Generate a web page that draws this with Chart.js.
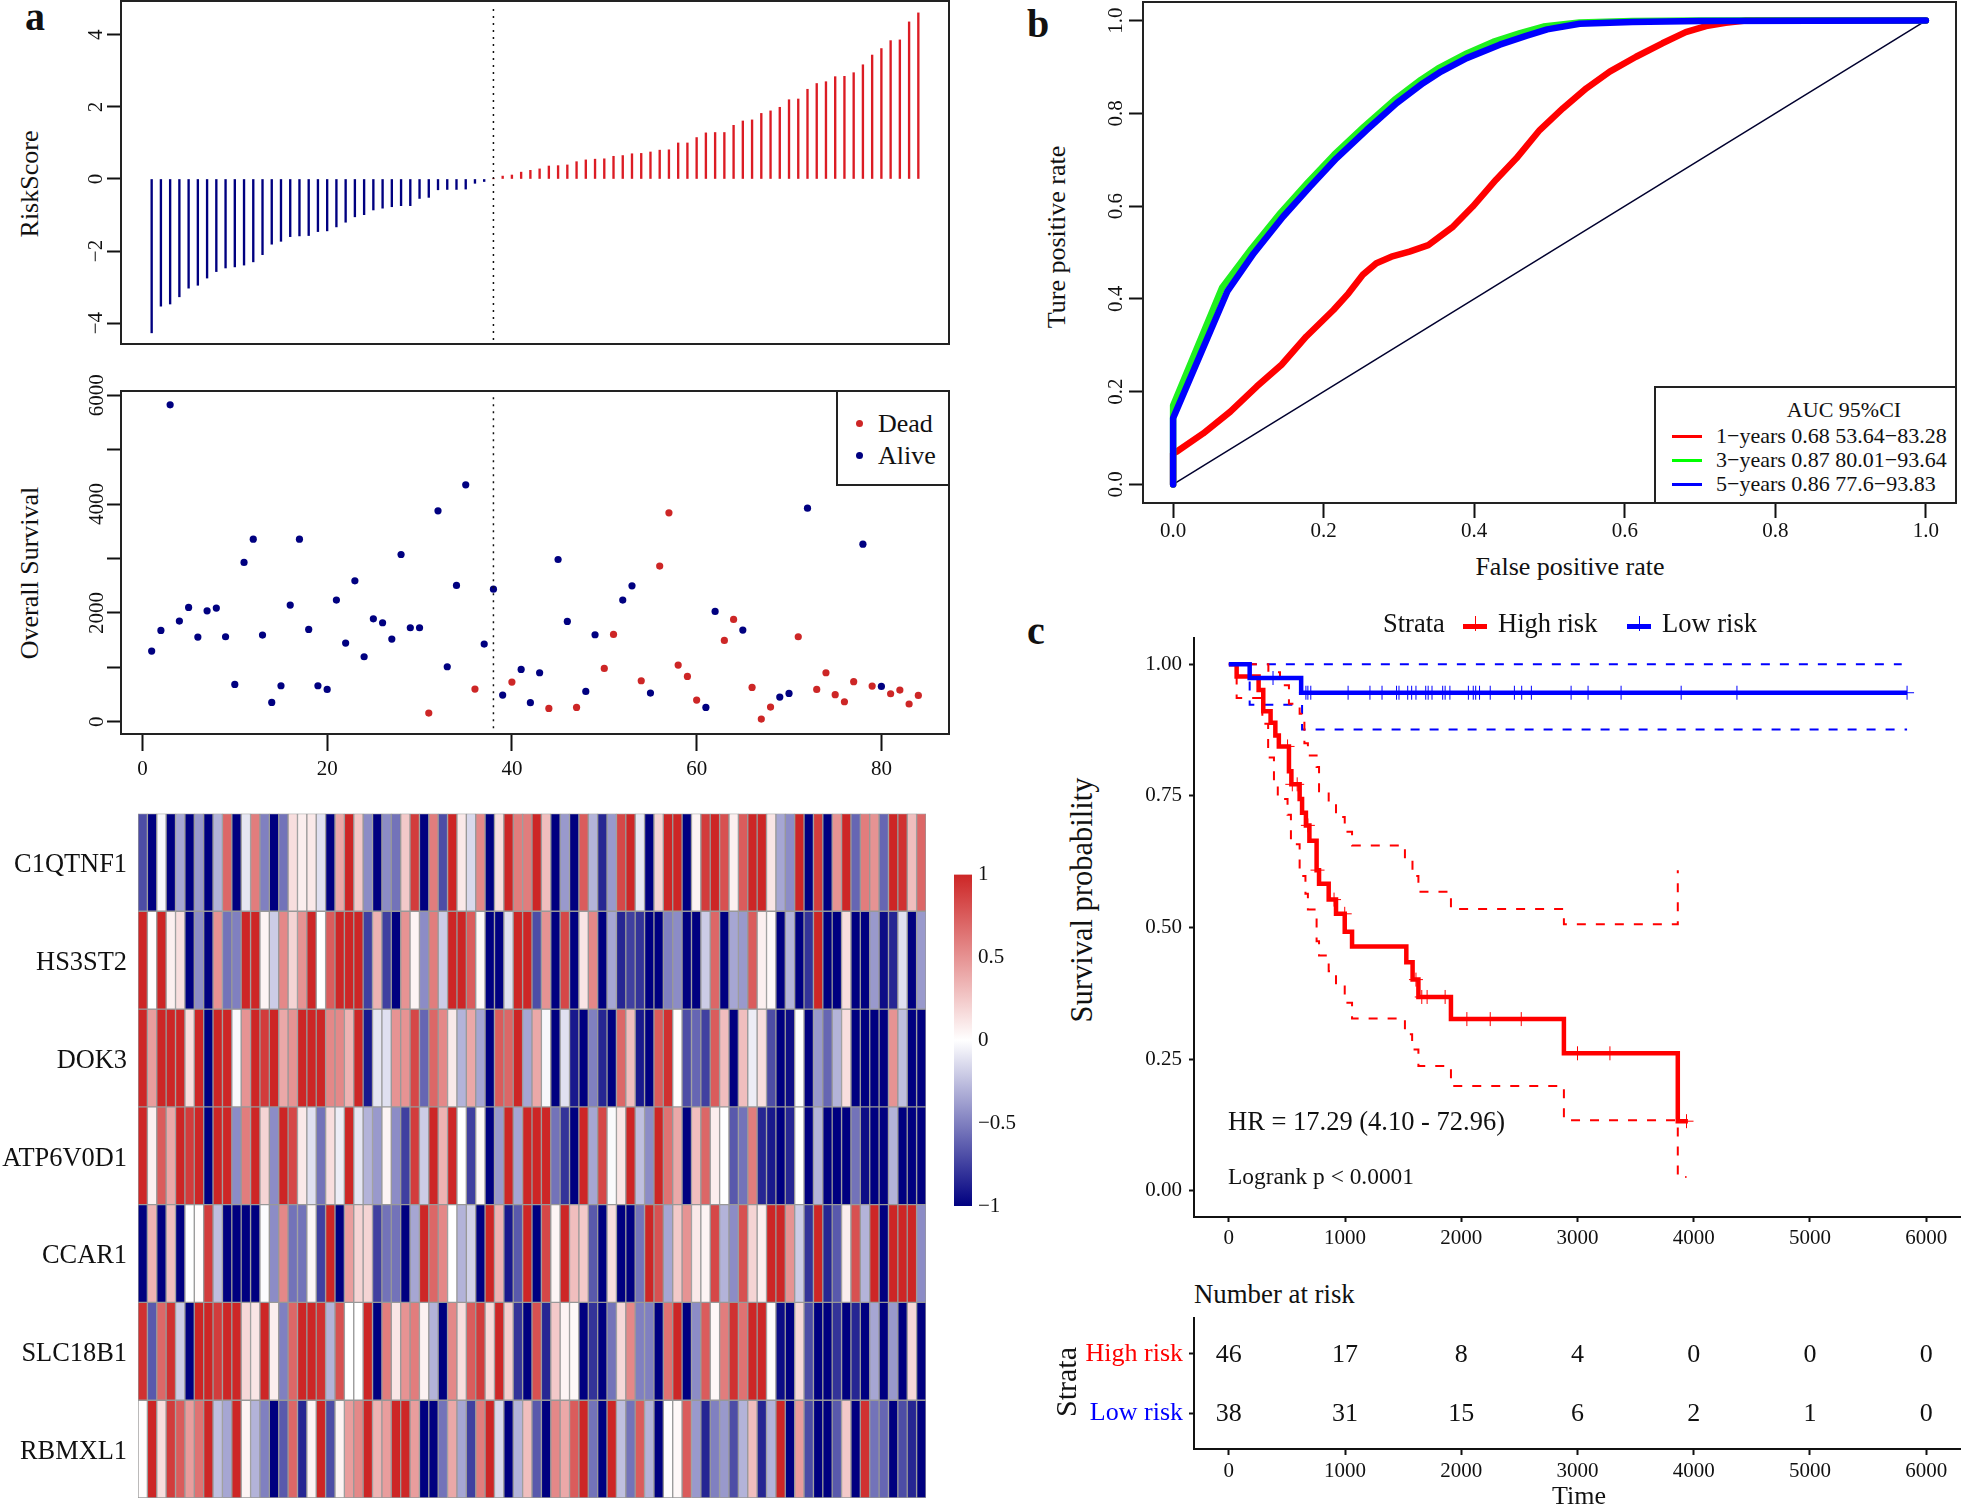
<!DOCTYPE html>
<html>
<head>
<meta charset="utf-8">
<title>Risk score panels</title>
<script src="https://cdn.jsdelivr.net/npm/chart.js@4"></script>
<style>
  html, body { margin: 0; padding: 0; background: #fff; }
  #page { position: relative; width: 1961px; height: 1505px; overflow: hidden; font-family: "Liberation Serif", serif; color: #111; }
  #page canvas { position: absolute; }
  .txt { position: absolute; white-space: pre; line-height: 1; }
  .box { position: absolute; border: 2px solid #222; background: #fff; box-sizing: border-box; }
  .swatch { position: absolute; }
</style>
</head>
<body>
<div id="page"></div>
<script>
// panel a, top: risk score per patient
const riskScore = [-4.27, -3.53, -3.47, -3.27, -3.03, -2.95, -2.75, -2.57, -2.47, -2.44, -2.39, -2.30, -2.10, -1.81,
  -1.73, -1.60, -1.58, -1.57, -1.46, -1.44, -1.33, -1.20, -1.05, -0.99, -0.86, -0.81, -0.77, -0.74, -0.74, -0.54,
  -0.51, -0.30, -0.29, -0.29, -0.28, -0.12, -0.07, 0.005, 0.08, 0.11, 0.19, 0.24, 0.28, 0.36, 0.37, 0.39, 0.48, 0.53,
  0.55, 0.56, 0.63, 0.65, 0.70, 0.71, 0.75, 0.80, 0.81, 1.00, 1.00, 1.15, 1.28, 1.29, 1.29, 1.49, 1.61, 1.64, 1.82,
  1.89, 1.99, 2.20, 2.22, 2.49, 2.65, 2.70, 2.84, 2.85, 2.95, 3.17, 3.44, 3.62, 3.84, 3.86, 4.36, 4.61];
const riskTicks = [-4, -2, 0, 2, 4];
const cutoff = 38;

// panel a, middle: survival time and status (1 = dead)
const survivalDays = [1298, 1678, 5824, 1849, 2100, 1555, 2039, 2088, 1562, 686, 2927, 3356, 1592, 355, 661, 2143,
  3356, 1696, 661, 594, 2235, 1445, 2590, 1194, 1892, 1819, 1519, 3074, 1727, 1727, 159, 3876, 1010, 2505, 4354, 600,
  1427, 2437, 490, 729, 961, 349, 900, 245, 2982, 1843, 263, 557, 1598, 980, 1604, 2235, 2498, 753, 527, 2860, 3840,
  1041, 833, 398, 263, 2027, 1494, 1880, 1684, 631, 49, 269, 453, 520, 1562, 3925, 594, 900, 496, 367, 735, 3264, 655,
  649, 514, 582, 325, 484];
const deadStatus = [0,0,0,0,0,0,0,0,0,0,0,0,0,0,0,0,0,0,0,0,0,0,0,0,0,0,0,0,0,0,1,0,0,0,0,1,0,0,0,1,0,0,0,1,0,0,1,0,0,1,
  1,0,0,1,0,1,1,1,1,1,0,0,1,1,0,1,1,1,0,0,1,0,1,1,1,1,1,0,1,0,1,1,1,1];
const survivalTicks = [0, 1000, 2000, 3000, 4000, 5000, 6000];
const survivalLabels = [0, 2000, 4000, 6000];
const patientTicks = [0, 20, 40, 60, 80];

// panel a, bottom: scaled expression
const geneNames = ['C1QTNF1', 'HS3ST2', 'DOK3', 'ATP6V0D1', 'CCAR1', 'SLC18B1', 'RBMXL1'];
const c1qtnf1 = [-0.7,-1,-0.03,-1,-0.35,-1,-0.4,-1,-0.3,0.7,-1,-0.1,0.6,-0.5,-1,-0.55,0.15,0.08,0.1,-0.12,-1,0.4,1,0.25,
  -0.45,-1,-0.45,-0.55,0.25,0.9,-1,0.6,-0.7,1,0.1,-0.15,0.55,-1,0.15,1,0.6,0.6,1,0.3,-1,-0.4,-1,0.75,-0.3,-0.85,-0.4,
  0.85,1,-0.1,-1,0.2,1,1,-1,0.05,0.9,1,0.8,0.07,0.75,1,1,0.12,-0.35,-0.45,1,-1,0.9,-1,0.5,1,-0.6,0.6,0.5,-0.6,1,0.95,0.3,0.7];
const hs3st2 = [1,0,1,0.07,0.15,-1,-0.45,-1,0.5,-0.55,-0.5,1,1,0.05,-0.2,0.55,0.2,0.5,1,0,0.75,1,1,1,-0.75,0.35,-0.75,-1,
  0.5,0.05,-0.45,0.6,-0.2,1,1,0.75,0.03,-1,-1,-0.12,1,1,-0.7,0.5,-1,0.85,-1,0.12,0.55,-1,-0.35,-0.85,-0.75,-0.8,-1,-1,
  -0.5,-0.45,-1,-1,-0.2,0.7,-1,-0.35,-0.4,0.75,0.07,0.03,-1,-0.3,-1,-0.8,1,-1,-1,0.15,-1,-1,-0.4,-0.95,-0.85,-0.12,-1,-0.4];
const dok3 = [1,0.45,1,1,1,0.15,1,-1,1,1,-0.02,0.5,1,0.9,1,0.4,0.5,1,1,1,0.55,0.55,0.35,1,-0.9,-0.1,-0.12,0.5,0.5,0.85,-0.6,
  0.7,0.55,0.1,-0.3,0.4,-0.35,-1,0.75,0.7,1,-0.35,0.4,-0.03,-1,-0.12,-0.9,-1,-0.5,-0.85,-1,0.7,0.3,-0.9,-1,0.75,0.95,0,
  -0.7,-0.6,-0.75,0.75,0.3,-1,0.3,-0.07,0.15,-0.7,-1,-0.95,-0.01,-1,-0.4,-0.6,-0.3,0.15,-1,-1,-1,-1,0.5,-0.25,-1,-1];
const atp6v0d1 = [1,0.07,0.75,0.4,1,0.9,1,-1,1,1,-0.45,0.6,1,0.2,-0.45,1,0.85,0.1,-0.12,-0.55,0.15,-0.07,1,-0.1,-0.3,-0.4,
  0.05,-0.45,-0.75,0.9,-0.2,1,0.35,1,0,-0.75,0.03,-1,-0.4,1,-0.35,1,1,1,-0.55,-0.8,-1,1,-0.35,0.85,-0.02,0.12,1,-0.25,
  -0.45,1,0.65,0.4,-1,0.3,0.7,0.08,0,-0.65,-0.55,0.6,-0.85,-0.9,-1,-0.85,0,-1,-0.3,-1,-1,-1,-0.55,-0.95,-1,-1,-0.3,-1,-1,-1];
const ccar1 = [-1,0.35,-1,0.3,-1,0,0.01,0.9,-0.25,-1,-1,-1,-1,-0.01,-0.45,0.55,-0.55,-0.55,0.04,-0.75,1,-1,0.45,0.2,0.2,
  -0.75,-0.55,-0.55,-1,-0.35,1,0.7,0.55,0,-0.3,-0.18,-1,1,0.35,-0.9,-0.65,1,-1,0.85,0.05,1,0.3,0.25,-0.65,-1,0.15,-1,-1,
  -0.55,1,0.8,-0.35,0.25,0.5,0.1,0.05,0.85,-0.3,-0.45,0.8,0.2,0.07,1,1,0.5,-0.2,-0.8,1,-0.85,-0.65,0.08,0.8,-0.3,1,-1,1,1,1,-0.45];
const slc18b1 = [0.95,-0.65,0.7,0.95,-0.2,-1,1,1,0.9,1,1,0.18,0.12,1,0.08,-0.5,0.7,1,1,0.95,-0.3,0.8,0,0,1,-1,0.6,0.12,0.5,
  0.6,0.06,-0.3,-1,0.55,0.15,0.75,0.9,0.17,1,0.22,-0.8,-1,0.8,-0.85,0.25,0.05,0.03,-1,-0.8,-1,-0.55,0.18,0.55,-0.5,-0.5,-1,
  0.65,1,-1,-0.45,0.75,0.03,0.6,0.95,0.65,1,1,0.02,-0.95,-1,0.18,-0.7,-1,-1,-0.8,-1,-0.85,-1,-0.35,-1,-0.4,-1,0.18,-1];
const rbmxl1 = [0.01,1,0.15,0.9,0.75,0.45,0.65,1,-0.25,-0.35,1,0.05,-0.3,-0.5,-1,-0.65,0.7,-0.85,0.05,1,-0.7,0.05,0.45,0.55,
  1,0.35,0.45,1,1,0.45,-1,-1,-0.55,0.4,-0.35,-0.75,0.6,1,-0.15,-1,-0.3,0.3,-0.65,-1,0.55,0.4,0.75,1,-0.55,-1,1,-0.25,-0.55,
  0.75,-0.3,-1,0.01,0.03,0.75,-0.4,-0.85,-0.5,-0.4,-0.7,-0.3,0.3,-0.85,-0.3,1,-1,0.45,-0.7,-1,-1,-0.65,0.25,-1,0.95,-0.55,-0.6,-1,-0.7,-0.85,-1];
const colourTicks = [-1, -0.5, 0, 0.5, 1];

// panel b: ROC curves
const fpr1y = [0, 0, 0.005, 0.04, 0.076, 0.111, 0.144, 0.177, 0.213, 0.233, 0.252, 0.27, 0.29, 0.314, 0.339, 0.372, 0.398, 0.429, 0.456, 0.487, 0.518, 0.549, 0.58, 0.615, 0.65, 0.681, 0.708, 0.734, 0.761, 1];
const tpr1y = [0, 0.067, 0.071, 0.11, 0.157, 0.211, 0.258, 0.319, 0.376, 0.412, 0.452, 0.477, 0.491, 0.502, 0.516, 0.556, 0.599, 0.657, 0.703, 0.764, 0.811, 0.854, 0.89, 0.922, 0.951, 0.975, 0.988, 0.995, 1, 1];
const fpr3y = [0, 0, 0.065, 0.104, 0.143, 0.179, 0.214, 0.254, 0.294, 0.329, 0.352, 0.39, 0.425, 0.461, 0.492, 0.54, 0.61, 0.7, 1];
const tpr3y = [0, 0.17, 0.424, 0.508, 0.586, 0.651, 0.711, 0.772, 0.829, 0.872, 0.897, 0.929, 0.954, 0.973, 0.987, 0.996, 0.999, 1, 1];
const fpr5y = [0, 0, 0.072, 0.107, 0.146, 0.182, 0.217, 0.257, 0.297, 0.332, 0.356, 0.39, 0.434, 0.469, 0.497, 0.54, 0.61, 0.7, 1];
const tpr5y = [0, 0.143, 0.416, 0.498, 0.577, 0.642, 0.703, 0.764, 0.822, 0.865, 0.89, 0.919, 0.948, 0.967, 0.981, 0.993, 0.997, 0.999, 1];
const rateTicks = [0, 0.2, 0.4, 0.6, 0.8, 1];

// panel c: Kaplan-Meier curves, value is the level reached at that time
const highTime = [0, 67, 256, 296, 359, 400, 430, 517, 538, 609, 630, 663, 693, 755, 776, 859, 922, 997, 1060, 1527, 1581, 1631, 1911, 2883, 3863, 3950];
const highSurv = [1, 0.977, 0.951, 0.911, 0.889, 0.865, 0.844, 0.797, 0.772, 0.744, 0.718, 0.694, 0.665, 0.609, 0.583, 0.553, 0.526, 0.492, 0.464, 0.434, 0.401, 0.368, 0.326, 0.261, 0.132, 0.132];
const highUpperTime = [0, 340, 440, 517, 609, 650, 680, 755, 776, 859, 922, 997, 1060, 1515, 1580, 1631, 1911, 2883, 3863];
const highUpperSurv = [1, 0.985, 0.96, 0.925, 0.906, 0.85, 0.827, 0.805, 0.759, 0.735, 0.71, 0.682, 0.656, 0.628, 0.598, 0.568, 0.535, 0.506, 0.609];
const highLowerTime = [0, 67, 288, 338, 388, 421, 505, 534, 609, 659, 680, 755, 776, 859, 922, 997, 1060, 1515, 1577, 1631, 1911, 2883, 3863, 3938];
const highLowerSurv = [1, 0.936, 0.887, 0.823, 0.778, 0.744, 0.714, 0.658, 0.598, 0.564, 0.534, 0.474, 0.447, 0.417, 0.391, 0.357, 0.327, 0.297, 0.268, 0.237, 0.199, 0.134, 0.026, 0.026];
const lowTime = [0, 179, 622, 5836];
const lowSurv = [1, 0.974, 0.946, 0.946];
const lowUpperTime = [0, 5790];
const lowUpperSurv = [1, 1];
const lowLowerTime = [0, 179, 630, 5836];
const lowLowerSurv = [1, 0.923, 0.876, 0.876];
const highCensorTime = [505, 546, 588, 680, 763, 905, 997, 1610, 1660, 1706, 1861, 2048, 2249, 2516, 3000, 3279, 3938];
const highCensorSurv = [0.844, 0.772, 0.772, 0.694, 0.609, 0.553, 0.526, 0.401, 0.368, 0.368, 0.368, 0.326, 0.326, 0.326, 0.261, 0.261, 0.132];
const lowCensorTime = [380, 663, 680, 705, 1026, 1214, 1318, 1443, 1464, 1539, 1573, 1610, 1694, 1715, 1748, 1840, 1861, 1902, 2061, 2103, 2124, 2157, 2249, 2457, 2520, 2603, 2945, 3091, 3375, 3892, 4372, 5836];
const survTicks = [0, 0.25, 0.5, 0.75, 1];
const timeTicks = [0, 1000, 2000, 3000, 4000, 5000, 6000];
const strataNames = ['High risk', 'Low risk'];
const highAtRisk = [46, 17, 8, 4, 0, 0, 0];
const lowAtRisk = [38, 31, 15, 6, 2, 1, 0];

const NAVY = '#000080';
const FIREBRICK = '#CD2626';
const INK = '#111111';
const SERIF = '"Liberation Serif", serif';

const page = document.getElementById('page');
Chart.defaults.font.family = SERIF;
Chart.defaults.color = INK;

function minus(v) {
  return String(v).replace('-', '\u2212');
}

function pairs(xs, ys) {
  return xs.map((x, i) => ({ x: x, y: ys[i] }));
}

function setTicks(values) {
  return function (scale) {
    scale.ticks = values.map(v => ({ value: v }));
  };
}

// box drawn round the plot area, as R's box()
const framePlugin = {
  id: 'frame',
  afterDraw(chart, args, opts) {
    if (!opts.on) return;
    const a = chart.chartArea, c = chart.ctx;
    c.save();
    c.strokeStyle = opts.color || '#222';
    c.lineWidth = opts.width || 2;
    c.strokeRect(a.left, a.top, a.right - a.left, a.bottom - a.top);
    c.restore();
  }
};

// numbers at risk, written at their time / stratum
const countsPlugin = {
  id: 'counts',
  afterDatasetsDraw(chart, args, opts) {
    if (!opts.rows) return;
    const c = chart.ctx, x = chart.scales.x, y = chart.scales.y;
    c.save();
    c.font = '26px ' + SERIF;
    c.fillStyle = INK;
    c.textAlign = 'center';
    c.textBaseline = 'middle';
    opts.rows.forEach((row, r) => {
      row.forEach((n, i) => c.fillText(n, x.getPixelForValue(timeTicks[i]), y.getPixelForValue(r + 1) + 1));
    });
    c.restore();
  }
};

Chart.register(framePlugin, countsPlugin);

// box = canvas rectangle, frame = plot area on the page
function addChart(box, frame, config) {
  const canvas = document.createElement('canvas');
  canvas.width = box.w;
  canvas.height = box.h;
  canvas.style.left = box.x + 'px';
  canvas.style.top = box.y + 'px';
  page.appendChild(canvas);

  const o = config.options;
  const rightAxis = o.scales.y.position === 'right';
  o.responsive = false;
  o.animation = false;
  o.devicePixelRatio = 1;
  o.layout = { autoPadding: false, padding: {
    top: frame.t - box.y,
    left: rightAxis ? frame.l - box.x : 0,
    right: rightAxis ? 0 : box.x + box.w - frame.r,
    bottom: 0
  } };
  o.scales.x.afterFit = s => {
    s.height = box.y + box.h - frame.b;
    s.paddingLeft = s.paddingRight = 0;
  };
  o.scales.y.afterFit = s => {
    s.width = rightAxis ? box.x + box.w - frame.r : frame.l - box.x;
    s.paddingTop = s.paddingBottom = 0;
  };
  o.plugins = Object.assign({ legend: { display: false }, tooltip: { enabled: false } }, o.plugins);
  return new Chart(canvas, config);
}

function label(text, x, y, opt) {
  opt = opt || {};
  const d = document.createElement('div');
  d.className = 'txt';
  d.textContent = text;
  d.style.left = x + 'px';
  d.style.top = y + 'px';
  d.style.fontSize = (opt.size || 26) + 'px';
  if (opt.weight) d.style.fontWeight = opt.weight;
  if (opt.color) d.style.color = opt.color;
  const tx = opt.left ? '0' : '-50%';
  d.style.transform = 'translate(' + tx + ',-50%)' + (opt.rot ? ' rotate(-90deg)' : '');
  page.appendChild(d);
}

function swatch(x, y, w, h, color, radius) {
  const d = document.createElement('div');
  d.className = 'swatch';
  d.style.left = x + 'px';
  d.style.top = y + 'px';
  d.style.width = w + 'px';
  d.style.height = h + 'px';
  d.style.background = color;
  if (radius) d.style.borderRadius = radius;
  page.appendChild(d);
}

function hiddenAxis(min, max) {
  return { type: 'linear', offset: false, min: min, max: max, grid: { display: false }, border: { display: false }, ticks: { display: false } };
}

function rotatedY(min, max, values, padding, format) {
  return {
    type: 'linear', min: min, max: max,
    afterBuildTicks: setTicks(values),
    border: { display: false },
    grid: { drawOnChartArea: false, tickLength: 14, tickWidth: 2, tickColor: INK },
    ticks: {
      font: { size: 21 }, minRotation: 90, maxRotation: 90, crossAlign: 'center', autoSkip: false, padding: padding,
      callback: format
    }
  };
}

const dottedCutoff = (y0, y1) => ({
  type: 'scatter', showLine: true, pointRadius: 0, borderColor: '#111', borderWidth: 1.5, borderDash: [2, 5],
  data: [{ x: cutoff, y: y0 }, { x: cutoff, y: y1 }]
});

// ---- panel a: risk score bars
addChart({ x: 70, y: 0, w: 885, h: 350 }, { l: 121, t: 1, r: 949, b: 344 }, {
  type: 'bar',
  data: { datasets: [
    dottedCutoff(-4.47, 4.83),
    {
      type: 'bar', barThickness: 1.7,
      data: riskScore.map((v, i) => ({ x: i + 1, y: v })),
      backgroundColor: riskScore.map(v => v < 0 ? NAVY : '#DC1C24')
    }
  ] },
  options: {
    scales: {
      x: hiddenAxis(-2.32, 87.32),
      y: rotatedY(-4.58, 4.94, riskTicks, -1, minus)
    },
    plugins: { frame: { on: true } }
  }
});

// ---- panel a: survival scatter
addChart({ x: 70, y: 365, w: 885, h: 430 }, { l: 121, t: 391, r: 949, b: 734 }, {
  type: 'scatter',
  data: { datasets: [
    dottedCutoff(-120, 6000),
    {
      data: survivalDays.map((v, i) => ({ x: i + 1, y: v })),
      pointRadius: 3.6,
      pointBorderWidth: 0,
      pointBackgroundColor: deadStatus.map(d => d ? FIREBRICK : NAVY)
    }
  ] },
  options: {
    scales: {
      x: {
        type: 'linear', min: -2.32, max: 87.32,
        afterBuildTicks: setTicks(patientTicks),
        border: { display: false },
        grid: { drawOnChartArea: false, tickLength: 17, tickWidth: 2, tickColor: INK },
        ticks: { font: { size: 21 }, padding: 6, maxRotation: 0, autoSkip: false }
      },
      y: rotatedY(-226, 6079, survivalTicks, -11, v => survivalLabels.includes(v) ? String(v) : '')
    },
    plugins: { frame: { on: true } }
  }
});

label('RiskScore', 30, 184, { rot: true });
label('Overall Survival', 30, 573, { rot: true });
label('a', 35, 17, { size: 40, weight: 'bold' });
label('b', 1038, 24, { size: 40, weight: 'bold' });
label('c', 1036, 631, { size: 40, weight: 'bold' });

const legendA = document.createElement('div');
legendA.className = 'box';
legendA.style.cssText = 'left:836px;top:390px;width:114px;height:96px;';
page.appendChild(legendA);
swatch(856, 420, 7, 7, FIREBRICK, '50%');
swatch(856, 452, 7, 7, NAVY, '50%');
label('Dead', 878, 424, { left: true });
label('Alive', 878, 456, { left: true });

// ---- panel a: heatmap, one floating bar per cell
const heatRows = [c1qtnf1, hs3st2, dok3, atp6v0d1, ccar1, slc18b1, rbmxl1];

function heatColour(v) {
  const mix = (a, b, t) => Math.round(a + (b - a) * t);
  if (v < 0) {
    const t = 1 + v;
    return 'rgb(' + mix(0, 255, t) + ',' + mix(0, 255, t) + ',' + mix(128, 255, t) + ')';
  }
  return 'rgb(' + mix(255, 205, v) + ',' + mix(255, 38, v) + ',' + mix(255, 38, v) + ')';
}

addChart({ x: 0, y: 805, w: 932, h: 700 }, { l: 138, t: 813.5, r: 926, b: 1498 }, {
  type: 'bar',
  data: {
    labels: c1qtnf1.map((v, i) => i + 1),
    datasets: heatRows.map((row, r) => ({
      label: geneNames[r],
      data: row.map(() => [r, r + 1]),
      backgroundColor: row.map(heatColour),
      borderColor: '#999999',
      borderWidth: 1,
      borderSkipped: false,
      barPercentage: 1,
      categoryPercentage: 1,
      grouped: false
    }))
  },
  options: {
    scales: {
      x: { type: 'category', grid: { display: false }, border: { display: false }, ticks: { display: false } },
      y: {
        type: 'linear', min: 0, max: 7, reverse: true,
        afterBuildTicks: setTicks(geneNames.map((g, i) => i + 0.53)),
        grid: { drawOnChartArea: false, drawTicks: false },
        border: { display: false },
        ticks: { font: { size: 26.4 }, padding: 11, autoSkip: false, callback: v => geneNames[Math.floor(v)] }
      }
    }
  }
});

// colour key
addChart({ x: 940, y: 860, w: 90, h: 365 }, { l: 954, t: 874.5, r: 972, b: 1206 }, {
  type: 'bar',
  data: {
    labels: ['key'],
    datasets: [{
      data: [[-1, 1]],
      barPercentage: 1,
      categoryPercentage: 1,
      backgroundColor(ctx) {
        const a = ctx.chart.chartArea;
        if (!a) return NAVY;
        const g = ctx.chart.ctx.createLinearGradient(0, a.bottom, 0, a.top);
        g.addColorStop(0, NAVY);
        g.addColorStop(0.5, '#ffffff');
        g.addColorStop(1, FIREBRICK);
        return g;
      }
    }]
  },
  options: {
    scales: {
      x: { type: 'category', grid: { display: false }, border: { display: false }, ticks: { display: false } },
      y: {
        type: 'linear', position: 'right', min: -1, max: 1,
        afterBuildTicks: setTicks(colourTicks),
        grid: { drawOnChartArea: false, drawTicks: false },
        border: { display: false },
        ticks: { font: { size: 21 }, padding: 6, autoSkip: false, callback: minus }
      }
    }
  }
});

// ---- panel b: ROC
function rocLine(xs, ys, color) {
  return {
    showLine: true, pointRadius: 0, borderColor: color, borderWidth: 6.5,
    borderCapStyle: 'round', borderJoinStyle: 'round',
    data: pairs(xs, ys)
  };
}

addChart({ x: 1085, y: 0, w: 876, h: 550 }, { l: 1143, t: 2, r: 1956, b: 503 }, {
  type: 'scatter',
  data: { datasets: [
    rocLine(fpr5y, tpr5y, '#0000ff'),
    rocLine(fpr3y, tpr3y, '#20f020'),
    rocLine(fpr1y, tpr1y, '#ff0000'),
    { showLine: true, pointRadius: 0, borderColor: '#00002e', borderWidth: 1.5, data: [{ x: 0, y: 0 }, { x: 1, y: 1 }] }
  ] },
  options: {
    scales: {
      x: {
        type: 'linear', min: -0.04, max: 1.04,
        afterBuildTicks: setTicks(rateTicks),
        border: { display: false },
        grid: { drawOnChartArea: false, tickLength: 15, tickWidth: 2, tickColor: INK },
        ticks: { font: { size: 21 }, padding: 1, maxRotation: 0, autoSkip: false, callback: v => v.toFixed(1) }
      },
      y: rotatedY(-0.04, 1.04, rateTicks, -1, v => v.toFixed(1))
    },
    plugins: { frame: { on: true } }
  }
});

label('Ture positive rate', 1057, 237, { rot: true });
label('False positive rate', 1570, 567);

const legendB = document.createElement('div');
legendB.className = 'box';
legendB.style.cssText = 'left:1654px;top:386px;width:303px;height:118px;';
page.appendChild(legendB);
label('AUC 95%CI', 1844, 410, { size: 22 });
label('1\u2212years 0.68 53.64\u221283.28', 1716, 436, { size: 22, left: true });
label('3\u2212years 0.87 80.01\u221293.64', 1716, 460, { size: 22, left: true });
label('5\u2212years 0.86 77.6\u221293.83', 1716, 484, { size: 22, left: true });
swatch(1672, 435, 30, 2.5, '#ff0000');
swatch(1672, 459, 30, 2.5, '#00ff00');
swatch(1672, 483, 30, 2.5, '#0000ff');

// ---- panel c: survival curves
function kmLine(xs, ys, color, dashed) {
  return {
    showLine: true, stepped: true, pointRadius: 0, borderColor: color,
    borderWidth: dashed ? 2 : 4.5, borderDash: dashed ? [9, 10] : [],
    data: pairs(xs, ys)
  };
}

function censor(xs, ys, color) {
  return {
    showLine: false, pointStyle: 'cross', pointRadius: 7, pointBorderWidth: 1,
    pointBorderColor: color, pointBackgroundColor: color, data: pairs(xs, ys)
  };
}

addChart({ x: 1100, y: 630, w: 861, h: 630 }, { l: 1194, t: 638, r: 1961, b: 1217 }, {
  type: 'scatter',
  data: { datasets: [
    censor(highCensorTime, highCensorSurv, '#ff0000'),
    censor(lowCensorTime, lowCensorTime.map((t, i) => i === 0 ? lowSurv[1] : lowSurv[2]), '#0000ff'),
    kmLine(lowTime, lowSurv, '#0000ff', false),
    kmLine(highTime, highSurv, '#ff0000', false),
    kmLine(highUpperTime, highUpperSurv, '#ff0000', true),
    kmLine(highLowerTime, highLowerSurv, '#ff0000', true),
    kmLine(lowUpperTime, lowUpperSurv, '#0000ff', true),
    kmLine(lowLowerTime, lowLowerSurv, '#0000ff', true)
  ] },
  options: {
    scales: {
      x: {
        type: 'linear', min: -300, max: 6300,
        afterBuildTicks: setTicks(timeTicks),
        border: { display: true, color: INK, width: 2 },
        grid: { drawOnChartArea: false, tickLength: 5, tickWidth: 2, tickColor: INK },
        ticks: { font: { size: 21 }, padding: 4, maxRotation: 0, autoSkip: false, callback: String }
      },
      y: {
        type: 'linear', min: -0.05, max: 1.05,
        afterBuildTicks: setTicks(survTicks),
        border: { display: true, color: INK, width: 2 },
        grid: { drawOnChartArea: false, tickLength: 5, tickWidth: 2, tickColor: INK },
        ticks: { font: { size: 21 }, padding: 7, autoSkip: false, callback: v => v.toFixed(2) }
      }
    }
  }
});

label('Survival probability', 1082, 900, { size: 30.5, rot: true });
label('Strata', 1383, 623, { size: 26.5, left: true });
swatch(1463, 623.5, 24, 5, '#ff0000');
swatch(1475, 616, 1, 15, '#ff0000');
label('High risk', 1498, 623, { size: 26.5, left: true });
swatch(1627, 623.5, 24, 5, '#0000ff');
swatch(1639, 616, 1, 15, '#0000ff');
label('Low risk', 1662, 623, { size: 26.5, left: true });
label('HR = 17.29 (4.10 - 72.96)', 1228, 1121, { size: 26.5, left: true });
label('Logrank p < 0.0001', 1228, 1177, { size: 23.4, left: true });

// ---- panel c: risk table
addChart({ x: 1070, y: 1310, w: 891, h: 175 }, { l: 1194, t: 1318, r: 1961, b: 1449 }, {
  type: 'scatter',
  data: { datasets: [] },
  options: {
    scales: {
      x: {
        type: 'linear', min: -300, max: 6300,
        afterBuildTicks: setTicks(timeTicks),
        border: { display: true, color: INK, width: 2 },
        grid: { drawOnChartArea: false, tickLength: 6, tickWidth: 2, tickColor: INK },
        ticks: { font: { size: 21 }, padding: 4, maxRotation: 0, autoSkip: false, callback: String }
      },
      y: {
        type: 'linear', min: 0.4, max: 2.6, reverse: true,
        afterBuildTicks: setTicks([1, 2]),
        border: { display: true, color: INK, width: 2 },
        grid: { drawOnChartArea: false, tickLength: 5, tickWidth: 2, tickColor: INK },
        ticks: {
          font: { size: 26 }, padding: 6, autoSkip: false,
          color: ctx => ctx.tick.value === 1 ? '#ff0000' : '#0000ff',
          callback: v => strataNames[v - 1]
        }
      }
    },
    plugins: { counts: { rows: [highAtRisk, lowAtRisk] } }
  }
});

label('Number at risk', 1194, 1294, { size: 26.8, left: true });
label('Strata', 1066, 1382, { size: 30, rot: true });
label('Time', 1579, 1496);
</script>
</body>
</html>
